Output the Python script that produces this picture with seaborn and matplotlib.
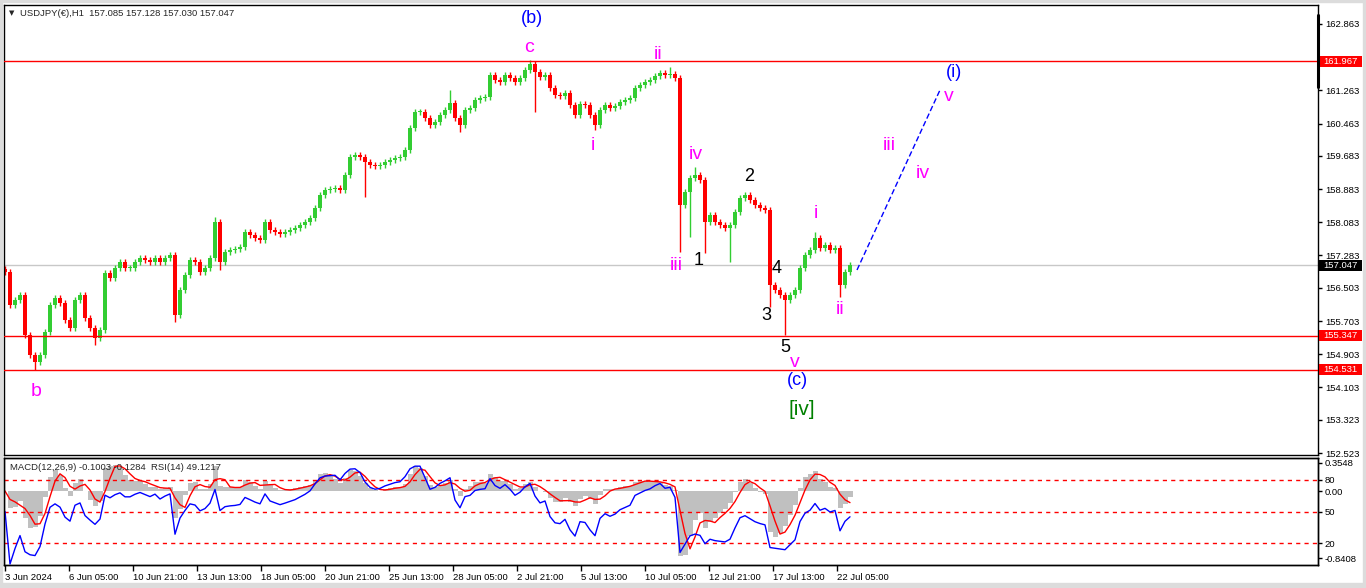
import numpy as np
import pandas as pd
import matplotlib
matplotlib.use('Agg')
import matplotlib.pyplot as plt
import matplotlib.transforms as mtransforms
from matplotlib.patches import Rectangle
from matplotlib.lines import Line2D
import seaborn as sns

# fechamentos (cada vela agrupa 5 barras de 1h)
fechamentos = [
    156.885, 156.090, 156.210, 156.331, 155.367, 154.885, 154.716, 154.885, 155.439, 156.090,
    156.259, 156.138, 155.728, 155.535, 156.210, 156.331, 155.777, 155.535, 155.294, 155.487,
    156.861, 156.741, 156.982, 157.126, 156.982, 156.982, 157.126, 157.223, 157.174, 157.126,
    157.223, 157.126, 157.223, 157.295, 155.849, 156.451, 156.813, 157.174, 157.126, 156.885,
    156.982, 157.223, 158.090, 157.126, 157.367, 157.416, 157.440, 157.488, 157.849, 157.777,
    157.705, 157.656, 158.090, 157.898, 157.849, 157.801, 157.849, 157.898, 157.946, 158.018,
    158.090, 158.187, 158.428, 158.742, 158.862, 158.886, 158.910, 158.862, 159.223, 159.657,
    159.705, 159.657, 159.536, 159.464, 159.440, 159.464, 159.536, 159.585, 159.633, 159.657,
    159.826, 160.356, 160.742, 160.742, 160.597, 160.428, 160.501, 160.669, 160.790, 160.959,
    160.597, 160.428, 160.790, 160.838, 161.031, 161.079, 161.103, 161.633, 161.513, 161.465,
    161.633, 161.561, 161.465, 161.561, 161.754, 161.898, 161.706, 161.585, 161.633, 161.320,
    161.151, 161.127, 161.199, 160.910, 160.669, 160.934, 160.910, 160.669, 160.428, 160.790,
    160.910, 160.838, 160.886, 160.983, 161.031, 161.079, 161.320, 161.392, 161.465, 161.513,
    161.609, 161.681, 161.633, 161.657, 161.561, 158.500, 158.813, 159.151, 159.223, 159.103,
    158.090, 158.259, 158.090, 158.018, 157.946, 158.018, 158.331, 158.669, 158.742, 158.621,
    158.500, 158.428, 158.380, 156.572, 156.451, 156.331, 156.210, 156.331, 156.451, 156.981,
    157.295, 157.416, 157.705, 157.464, 157.536, 157.416, 157.464, 156.572, 156.885, 157.047,
]
abertura_inicial = 156.95

# pavios que se destacam (índice da vela -> preço)
maximas_extra = {42: 158.211, 89: 161.272, 105: 161.995, 133: 161.827,
                 138: 159.416, 148: 158.814, 162: 157.849}
minimas_extra = {6: 154.53, 18: 155.126, 34: 155.680, 43: 156.934, 72: 158.693,
                 91: 160.260, 106: 160.742, 118: 160.308, 135: 157.367, 137: 157.729,
                 140: 157.343, 145: 157.126, 153: 156.042, 156: 155.367, 167: 156.283}

niveis = [161.967, 155.347, 154.531]
preco_atual = 157.047

ticks_preco = [162.863, 161.263, 160.463, 159.683, 158.883, 158.083, 157.283,
               156.503, 155.703, 154.903, 154.103, 153.323, 152.523]

rotulos_datas = ['3 Jun 2024', '6 Jun 05:00', '10 Jun 21:00', '13 Jun 13:00',
                 '18 Jun 05:00', '20 Jun 21:00', '25 Jun 13:00', '28 Jun 05:00',
                 '2 Jul 21:00', '5 Jul 13:00', '10 Jul 05:00', '12 Jul 21:00',
                 '17 Jul 13:00', '22 Jul 05:00']
posicoes_datas = [64 * i for i in range(len(rotulos_datas))]

# contagem de ondas: (texto, barra, preço, cor, tamanho)
ROSA, AZUL, PRETO, VERDE = '#ff00ff', '#0000ff', '#000000', '#008000'
ondas = [
    ('(b)', 527, 162.983, AZUL, 13), ('c', 524, 162.284, ROSA, 14),
    ('ii', 653, 162.115, ROSA, 14), ('i', 588, 159.946, ROSA, 14),
    ('iv', 691, 159.729, ROSA, 14), ('iii', 671, 157.030, ROSA, 14),
    ('1', 694, 157.174, PRETO, 13), ('2', 744, 159.175, PRETO, 13),
    ('4', 772, 156.958, PRETO, 13), ('3', 761, 155.825, PRETO, 13),
    ('5', 780, 155.054, PRETO, 13), ('v', 790, 154.716, ROSA, 14),
    ('(c)', 792, 154.282, AZUL, 13), ('[iv]', 797, 153.583, VERDE, 15),
    ('i', 811, 158.307, ROSA, 14), ('ii', 835, 155.993, ROSA, 14),
    ('iii', 884, 159.946, ROSA, 14), ('iv', 918, 159.271, ROSA, 14),
    ('v', 944, 161.103, ROSA, 14), ('(i)', 949, 161.682, AZUL, 13),
    ('b', 31, 154.017, ROSA, 14),
]
projecao_x = [852, 935]
projecao_y = [156.934, 161.272]

sns.set_theme(style='white')
plt.rcParams['font.family'] = ['Liberation Sans', 'DejaVu Sans']

W, H = 1366, 588
def caixa(x0, y0, x1, y1):
    return [x0 / W, 1 - y1 / H, (x1 - x0) / W, (y1 - y0) / H]

fig = plt.figure(figsize=(W / 100, H / 100), dpi=100, facecolor='white')
ax = fig.add_axes(caixa(4, 5, 1318, 455))
ax_macd = fig.add_axes(caixa(4, 458, 1318, 565))
ax_rsi = ax_macd.twinx()

# velas
fech = np.array(fechamentos)
aber = np.r_[abertura_inicial, fech[:-1]]
pos = np.arange(len(fech)) * 5
maxs = np.maximum(aber, fech) + 0.07
mins = np.minimum(aber, fech) - 0.07
for i, v in maximas_extra.items():
    maxs[i] = v
for i, v in minimas_extra.items():
    mins[i] = v
cores = np.where(fech >= aber, '#32cd32', '#ff0000')

ax.axhline(preco_atual, color='#c8c8c8', lw=1, zorder=0)
ax.vlines(pos, mins, maxs, colors=cores, lw=1, zorder=2)
ax.bar(pos, np.maximum(np.abs(fech - aber), 0.02), bottom=np.minimum(aber, fech),
       width=4, color=cores, linewidth=0, zorder=2)
for nv in niveis:
    ax.axhline(nv, color='#ff0000', lw=1, zorder=3)

ax.plot(projecao_x, projecao_y, color=AZUL, lw=1, dashes=(4, 2))
for txt, x, p, cor, tam in ondas:
    ax.text(x, p, txt, color=cor, fontsize=tam, ha='center', va='center', zorder=5)

ax.set_xlim(-1, 1313)
ax.set_ylim(152.475, 163.320)
ax.set_xticks([])
ax.yaxis.tick_right()
ax.set_yticks(ticks_preco)
ax.set_yticklabels([f'{t:.3f}' for t in ticks_preco])
ax.tick_params(axis='y', direction='out', length=3, width=1, labelsize=6.8,
               pad=2, colors='black', right=True, left=False)

# caixas de preço no eixo
mist = mtransforms.blended_transform_factory(fig.transFigure, ax.transData)
for p, fundo in [(niveis[0], '#ff0000'), (niveis[1], '#ff0000'), (niveis[2], '#ff0000'),
                 (preco_atual, '#000000')]:
    ax.add_patch(Rectangle((1319 / W, p - 0.13), 43 / W, 0.26, transform=mist,
                           facecolor=fundo, edgecolor='none', clip_on=False, zorder=6))
    ax.text(1323 / W, p, f'{p:.3f}', transform=mist, color='white', fontsize=6.8,
            va='center', ha='left', clip_on=False, zorder=7)

# indicadores: MACD(12,26,9) e RSI(14), ajustados para velas de 5 barras
s = pd.Series(fech)
macd = s.ewm(span=12 / 5, adjust=False).mean() - s.ewm(span=26 / 5, adjust=False).mean()
sinal = macd.rolling(3, min_periods=1).mean()
delta = s.diff().fillna(0)
ganho = delta.clip(lower=0).ewm(alpha=1 / 8, adjust=False).mean()
perda = (-delta.clip(upper=0)).ewm(alpha=1 / 8, adjust=False).mean()
rsi = 100 - 100 / (1 + ganho / perda.replace(0, np.nan))
rsi = rsi.fillna(50)

ax_macd.bar(pos, macd, width=5, color='#c0c0c0', linewidth=0)
sns.lineplot(x=pos, y=sinal.values, ax=ax_macd, color='#ff0000', lw=1)
ax_macd.set_ylim(-0.928, 0.414)
ax_macd.set_xlim(-1, 1313)
ax_macd.yaxis.tick_right()
ax_macd.set_yticks([0.3548, 0.0, -0.8408])
ax_macd.set_yticklabels(['0.3548', '0.00', '-0.8408'])

for nv in [80, 50, 20]:
    ax_rsi.axhline(nv, color='#ff0000', lw=1, dashes=(3, 3))
sns.lineplot(x=pos, y=rsi.values, ax=ax_rsi, color='#0000ff', lw=1)
ax_rsi.set_ylim(-0.95, 100.95)
ax_rsi.set_yticks([80, 50, 20])
ax_rsi.set_yticklabels(['80', '50', '20'])
ax_rsi.set_xlim(-1, 1313)

for a in (ax_macd, ax_rsi):
    a.set_ylabel('')
    a.tick_params(axis='y', direction='out', length=3, width=1, labelsize=6.8,
                  pad=2, colors='black', right=True, left=False)

ax_macd.set_xticks(posicoes_datas)
ax_macd.set_xticklabels(rotulos_datas, ha='left')
ax_macd.tick_params(axis='x', direction='out', length=4, width=1, labelsize=6.8,
                    pad=1.5, colors='black', bottom=True)

for a in (ax, ax_macd, ax_rsi):
    for sp in a.spines.values():
        sp.set_color('black')
        sp.set_linewidth(1)

# cabeçalhos
fig.text(9 / W, 1 - 13 / H, '▼', fontsize=5, va='center', ha='left', family=['DejaVu Sans'])
fig.text(20 / W, 1 - 13 / H, 'USDJPY(€),H1  157.085 157.128 157.030 157.047',
         fontsize=6.8, va='center', ha='left')
fig.text(10 / W, 1 - 467 / H, 'MACD(12,26,9) -0.1003 -0.1284  RSI(14) 49.1217',
         fontsize=6.8, va='center', ha='left')

# marca preta no eixo de preço e bordas cinza da janela
fig.add_artist(Line2D([1318 / W] * 2, [1 - 15 / H, 1 - 87 / H], color='black', lw=2.2))
cinza = '#dcdcdc'
fig.add_artist(Rectangle((1363 / W, 0), 3 / W, 1, transform=fig.transFigure, color=cinza))
fig.add_artist(Rectangle((0, 0), 1, 5 / H, transform=fig.transFigure, color=cinza))
fig.add_artist(Rectangle((0, 0), 2 / W, 1, transform=fig.transFigure, color=cinza))
fig.add_artist(Rectangle((0, 1 - 2 / H), 1, 2 / H, transform=fig.transFigure, color=cinza))

fig.savefig('out.png', dpi=100, facecolor='white')
